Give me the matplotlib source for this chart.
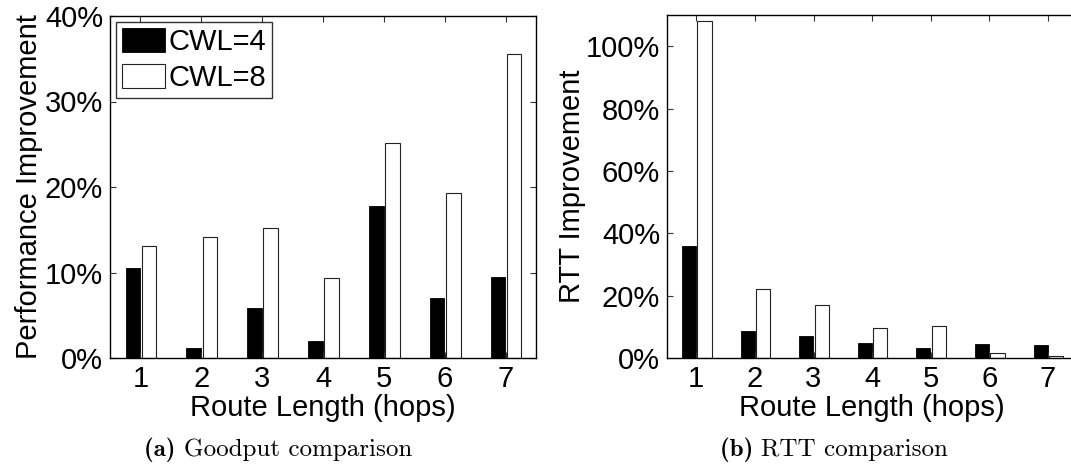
import matplotlib
matplotlib.use("Agg")
import matplotlib.pyplot as plt
import numpy as np

hops = [1, 2, 3, 4, 5, 6, 7]
goodput_cwl4 = [10.5, 1.2, 5.9, 2.0, 17.8, 7.0, 9.5]
goodput_cwl8 = [13.1, 14.2, 15.2, 9.4, 25.2, 19.3, 35.5]
rtt_cwl4 = [36.0, 8.6, 7.2, 4.9, 3.3, 4.6, 4.1]
rtt_cwl8 = [108.2, 22.2, 17.0, 9.5, 10.4, 1.6, 0.6]
series_labels = ["CWL=4", "CWL=8"]
left_yticks = [0, 10, 20, 30, 40]
right_yticks = [0, 20, 40, 60, 80, 100]

plt.rcParams['font.family'] = ['Liberation Sans', 'DejaVu Sans']

W, H = 1071, 466
FS = 21
fig = plt.figure(figsize=(W / 100, H / 100), dpi=100)


def ax_at(l, r, t, b):
    return fig.add_axes([l / W, (H - b) / H, (r - l) / W, (b - t) / H])


def style(ax):
    ax.tick_params(direction='in', top=True, right=True, length=4, width=0.8,
                   labelsize=FS, pad=5, color='#333333')
    for s in ax.spines.values():
        s.set_linewidth(1.0)


bw = 0.24
x = np.array(hops, dtype=float)

# Left: goodput
ax1 = ax_at(110, 536, 16, 358)
ax1.bar(x - 0.125, goodput_cwl4, width=bw, color='black', edgecolor='black',
        linewidth=0.6, label=series_labels[0])
ax1.bar(x + 0.14, goodput_cwl8, width=bw, color='white', edgecolor='#222222',
        linewidth=0.8, label=series_labels[1])
ax1.set_xlim(0.5, 7.5)
ax1.set_ylim(0, 40)
ax1.set_xticks(hops)
ax1.set_yticks(left_yticks)
ax1.set_yticklabels([f"{v}%" for v in left_yticks])
ax1.set_xlabel("Route Length (hops)", fontsize=FS, labelpad=1)
ax1.set_ylabel("Performance Improvement", fontsize=FS, labelpad=1)
style(ax1)
leg = ax1.legend(loc='upper left', fontsize=FS, frameon=True, fancybox=False,
                 edgecolor='black', handlelength=1.45, handleheight=0.9,
                 handletextpad=0.12, borderpad=0.2, labelspacing=0.25,
                 borderaxespad=0.22)
leg.get_frame().set_linewidth(1.0)

# Right: RTT
ax2 = ax_at(667, 667 + 7 * 58.6, 15, 358)
ax2.bar(x - 0.125, rtt_cwl4, width=bw, color='black', edgecolor='black', linewidth=0.6)
ax2.bar(x + 0.14, rtt_cwl8, width=bw, color='white', edgecolor='#222222', linewidth=0.8)
ax2.set_xlim(0.5, 7.5)
ax2.set_ylim(0, 110)
ax2.set_xticks(hops)
ax2.set_yticks(right_yticks)
ax2.set_yticklabels([f"{v}%" for v in right_yticks])
ax2.set_xlabel("Route Length (hops)", fontsize=FS, labelpad=1)
ax2.set_ylabel("RTT Improvement", fontsize=FS, labelpad=0)
style(ax2)

# Captions
for cx, bold, rest in [(278, "(a)", "Goodput comparison"), (834, "(b)", "RTT comparison")]:
    t1 = fig.text(0, 0, bold + " ", fontsize=18, family='cmb10', va='baseline', ha='left')
    t2 = fig.text(0, 0, rest, fontsize=18, family='cmr10', va='baseline', ha='left')
    fig.canvas.draw()
    r = fig.canvas.get_renderer()
    w1 = t1.get_window_extent(r).width
    w2 = t2.get_window_extent(r).width
    x0 = cx - (w1 + w2) / 2
    y = (H - 456) / H
    t1.set_position((x0 / W, y))
    t2.set_position(((x0 + w1) / W, y))

fig.savefig("out.png", dpi=100)
